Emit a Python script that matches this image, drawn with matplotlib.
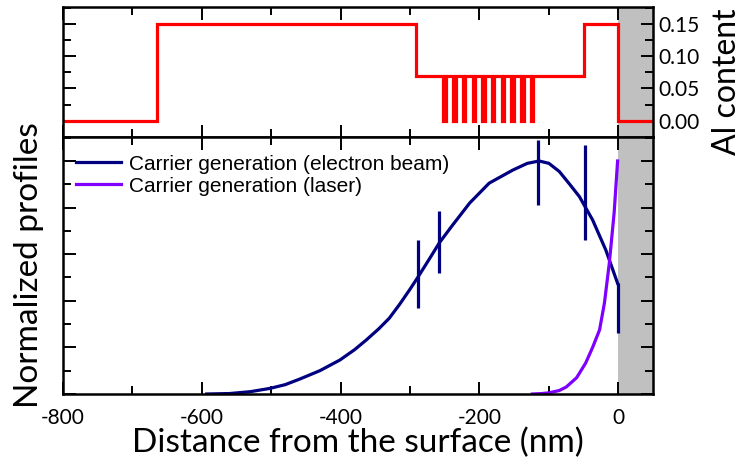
import numpy as np
import matplotlib
matplotlib.use("Agg")
import matplotlib.pyplot as plt
from matplotlib.ticker import MultipleLocator

# Al content profile (step points, nm / fraction)
al_x = [-800, -665, -665, -291, -291]
al_y = [0.0, 0.0, 0.15, 0.15, 0.07]
qw_start = [-252, -238, -224, -210, -196, -182, -168, -154, -140, -126]
qw_width = 3.5
al_x_end = [-49, -49, -1, -1, 50]
al_y_end = [0.07, 0.15, 0.15, 0.0, 0.0]

# carrier generation (electron beam)
eb_x = [-593, -560, -530, -502, -480, -459, -430, -401, -380, -363, -345, -330,
        -315, -300, -289, -270, -258, -240, -214, -186, -152, -131, -114, -100,
        -85, -70, -56, -37, -18, -1]
eb_y = [0.0, 0.002, 0.01, 0.024, 0.04, 0.064, 0.1, 0.146, 0.19, 0.232, 0.28, 0.325,
        0.385, 0.45, 0.5, 0.59, 0.648, 0.72, 0.82, 0.905, 0.961, 0.99, 1.0, 0.99,
        0.955, 0.9, 0.847, 0.747, 0.618, 0.475]
err_x = [-289, -258, -116, -48, -1]
err_lo = [0.369, 0.521, 0.811, 0.661, 0.262]
err_hi = [0.661, 0.785, 1.09, 1.069, 0.476]

# carrier generation (laser)
las_x = [-124, -110, -100, -85, -75, -60, -47, -37, -27, -20, -13, -6, -1]
las_y = [0.0, 0.002, 0.005, 0.015, 0.03, 0.07, 0.133, 0.2, 0.275, 0.39, 0.56, 0.777, 1.0]


def al_profile():
    xs = list(al_x)
    ys = list(al_y)
    for s in qw_start:
        xs += [s, s, s + qw_width, s + qw_width]
        ys += [0.07, 0.0, 0.0, 0.07]
    xs += al_x_end
    ys += al_y_end
    return xs, ys


plt.rcParams['font.family'] = ['Lato', 'DejaVu Sans']
plt.rcParams['axes.unicode_minus'] = False

fig = plt.figure(figsize=(7.43, 4.68), dpi=100)
left, right = 63 / 743, 653 / 743
ax1 = fig.add_axes([left, 1 - 137 / 468, right - left, 130 / 468])
ax2 = fig.add_axes([left, 1 - 394 / 468, right - left, 257 / 468])

xs, ys = al_profile()
ax1.plot(xs, ys, color='#ff0000', lw=2.3, solid_joinstyle='miter')
ax1.set_ylim(-0.025, 0.176)
ax1.yaxis.set_major_locator(MultipleLocator(0.05))
ax1.yaxis.set_minor_locator(MultipleLocator(0.025))
ax1.yaxis.tick_right()
ax1.tick_params(labelbottom=False)

ax2.plot(eb_x, eb_y, color='#000080', lw=2.3, label='Carrier generation (electron beam)')
ax2.vlines(err_x, err_lo, err_hi, color='#000080', lw=2.3)
ax2.plot(las_x, las_y, color='#8000ff', lw=2.3, label='Carrier generation (laser)')
ax2.set_ylim(0, 1.103)
ax2.yaxis.set_major_locator(MultipleLocator(0.2))
ax2.yaxis.set_minor_locator(MultipleLocator(0.1))
ax2.tick_params(labelleft=False)

for ax in (ax1, ax2):
    ax.set_xlim(-800, 50)
    ax.axvspan(0, 50, color='#c0c0c0', zorder=0, lw=0)
    ax.xaxis.set_major_locator(MultipleLocator(200))
    ax.xaxis.set_minor_locator(MultipleLocator(100))
    ax.tick_params(which='both', direction='in', top=True, bottom=True,
                   left=True, right=True, width=1.4, labelsize=15)
    ax.tick_params(which='major', length=9)
    ax.tick_params(which='minor', length=5.5)
    for sp in ax.spines.values():
        sp.set_linewidth(1.8)

ax1.tick_params(axis='y', pad=4)
ax2.tick_params(axis='x', pad=10)

ax2.set_xlabel('Distance from the surface (nm)', fontsize=24, labelpad=0)
ax2.set_ylabel('Normalized profiles', fontsize=24, labelpad=10)
fig.text(0.978, 1 - 82 / 468, 'Al content', rotation=90, fontsize=23,
         ha='center', va='center')

leg = ax2.legend(loc='upper left', bbox_to_anchor=(0.0, 0.98), frameon=False,
                 prop={'family': 'Liberation Sans', 'size': 15},
                 handlelength=2.2, handletextpad=0.35, labelspacing=0.15,
                 borderaxespad=0.3, borderpad=0.3)

fig.savefig('out.png', dpi=100)
